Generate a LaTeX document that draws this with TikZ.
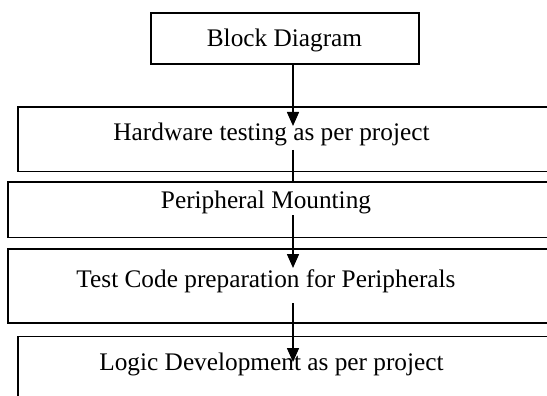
\documentclass[tikz,border=0pt]{standalone}
\usepackage{fontspec}
\setmainfont{Liberation Serif}
\usetikzlibrary{arrows.meta}

\begin{document}
\begin{tikzpicture}[x=1pt,y=-1pt,line width=1.6pt,
  stepbox/.style={draw,anchor=north west,inner sep=0pt,minimum height=#1},
  steptext/.style={anchor=base,inner sep=0pt,font=\fontsize{25.3}{30}\selectfont},
  flow/.style={-{Triangle[width=12pt,length=14pt]}}]
\useasboundingbox (0,0) rectangle (547,396);
\clip (0,0) rectangle (547,396);
\node[stepbox=51pt,minimum width=268pt] (b1) at (150,12) {};
\node[stepbox=64pt,minimum width=560pt] (b2) at (17,106.5) {};
\node[stepbox=55.5pt,minimum width=570pt] (b3) at (7,181) {};
\node[stepbox=74pt,minimum width=570pt] (b4) at (7,248) {};
\node[stepbox=90pt,minimum width=560pt] (b5) at (17,335.5) {};
\node[steptext] (t1) at (284.5,47) {Block Diagram};
\node[steptext] (t2) at (271.5,141) {Hardware testing as per project};
\node[steptext] (t3) at (266,208.5) {Peripheral Mounting};
\node[steptext] (t4) at (266,287) {Test Code preparation for Peripherals};
\node[steptext] (t5) at (271.5,370) {Logic Development as per project};
\coordinate (e1) at (293,126);
\coordinate (s2) at (293,150);
\coordinate (s3) at (293,215);
\coordinate (e3) at (293,268);
\coordinate (s4) at (293,303);
\coordinate (e4) at (293,362);
\draw[flow] (b1.south -| e1) -- (e1);
\draw (s2) -- (s2 |- b3.north);
\draw[flow] (s3) -- (e3);
\draw[flow] (s4) -- (e4);
\end{tikzpicture}
\end{document}
